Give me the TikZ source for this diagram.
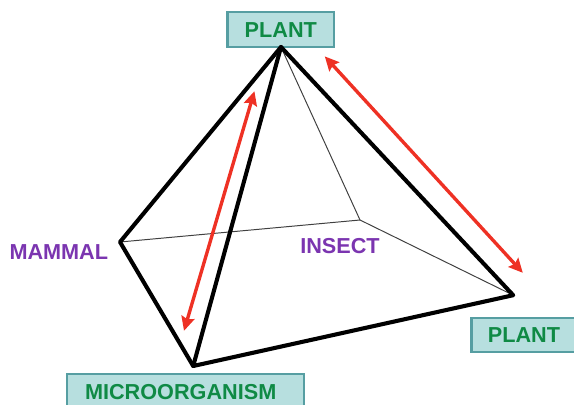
\documentclass[tikz,border=0pt]{standalone}
\usepackage{fontspec}
\setmainfont{Liberation Sans}
\usepackage{xcolor}
\usetikzlibrary{arrows.meta}
\definecolor{boxfill}{HTML}{B7DFDF}
\definecolor{boxline}{HTML}{569EA2}
\definecolor{plantgreen}{HTML}{0F8A45}
\definecolor{animalpurple}{HTML}{7B35B0}
\definecolor{arrowred}{HTML}{EE3124}
\begin{document}
\begin{tikzpicture}[
    kingdom/.style={rectangle, draw=boxline, fill=boxfill, line width=1.6pt, inner sep=0pt, minimum height=0.86cm, text=plantgreen, font=\fontsize{15.4}{17}\selectfont\bfseries},
    animal/.style={inner sep=0pt, text=animalpurple, font=\fontsize{15.4}{17}\selectfont\bfseries},
    edge/.style={black, line width=2.9pt, line cap=round, line join=round},
    hidden/.style={black!75, line width=0.7pt},
    arrow/.style={{Stealth[length=10pt,width=9.5pt,inset=1.5pt]}-{Stealth[length=10pt,width=9.5pt,inset=1.5pt]},arrowred,line width=2.4pt}
]
\useasboundingbox (0,0) rectangle (14.35,-10.1);
\clip (0,0) rectangle (14.35,-10.1);

% ============== CORNERS ==============
\coordinate (apex) at (7.025,-1.175);
\coordinate (left) at (3.0,-6.05);
\coordinate (front) at (4.83,-9.15);
\coordinate (right) at (12.83,-7.38);
\coordinate (back) at (9.0,-5.5);

% ============== LABELS ==============
\node[kingdom, minimum width=2.66cm, minimum height=0.88cm] (plantTop) at (7.02,-0.74) {PLANT};
\node[kingdom, minimum width=2.62cm] (plantRight) at (13.1,-8.375) {PLANT};
\node[kingdom, minimum width=5.92cm, minimum height=0.9cm] (microbe) at (4.64,-9.8) {MICROORGANISM\kern7pt};
\node[animal] (mammal) at (1.47,-6.31) {MAMMAL};
\node[animal] (insect) at (8.5,-6.15) {INSECT};

% ============== EDGES ==============
% hidden edges first
\draw[hidden] (apex) -- (back);
\draw[hidden] (left) -- (back);
\draw[hidden] (back) -- (right);

\draw[edge] (left) -- (apex) -- (right) -- (front) -- cycle;
\draw[edge] (apex) -- (front);

% ============== ARROWS ==============
\coordinate (arrowAup) at (6.36,-2.28);
\coordinate (arrowAdown) at (4.6,-8.27);
\coordinate (arrowBup) at (8.12,-1.41);
\coordinate (arrowBdown) at (13.07,-6.82);
\draw[arrow] (arrowAup) -- (arrowAdown);
\draw[arrow] (arrowBup) -- (arrowBdown);

\end{tikzpicture}
\end{document}
